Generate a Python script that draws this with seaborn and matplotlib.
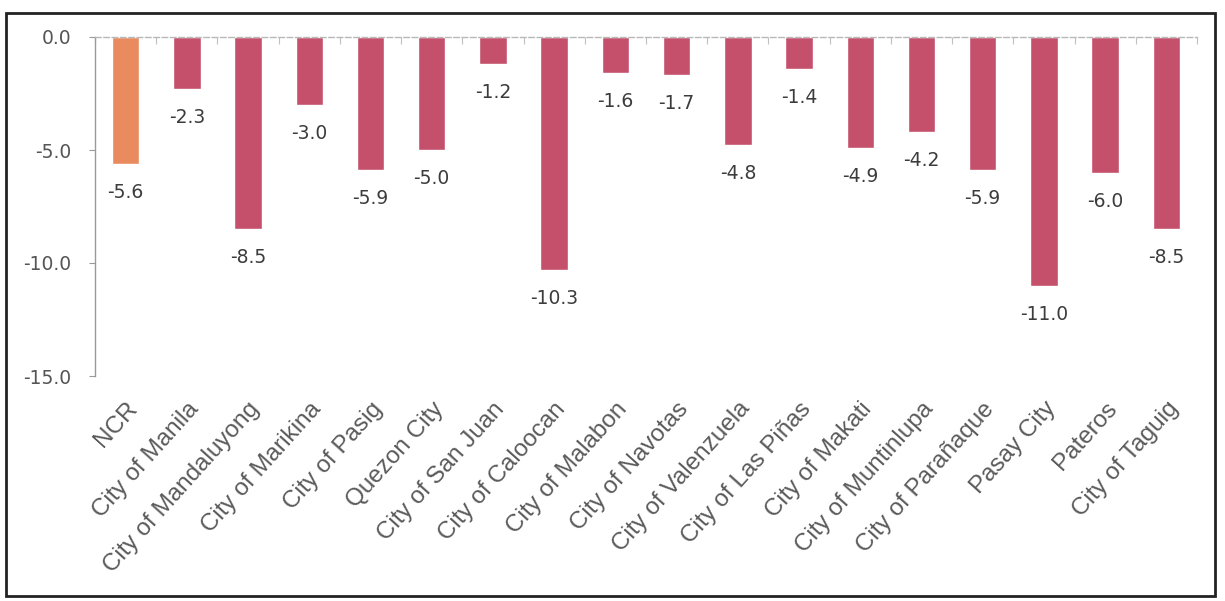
import matplotlib
matplotlib.use("Agg")
import matplotlib.pyplot as plt
from matplotlib.patches import Rectangle
from matplotlib.transforms import ScaledTranslation
import seaborn as sns
import pandas as pd
import numpy as np

# Change in values by area (NCR total and its cities / municipality)
areas = [
    "NCR", "City of Manila", "City of Mandaluyong", "City of Marikina",
    "City of Pasig", "Quezon City", "City of San Juan", "City of Caloocan",
    "City of Malabon", "City of Navotas", "City of Valenzuela",
    "City of Las Piñas", "City of Makati", "City of Muntinlupa",
    "City of Parañaque", "Pasay City", "Pateros", "City of Taguig",
]
values = [-5.6, -2.3, -8.5, -3.0, -5.9, -5.0, -1.2, -10.3, -1.6, -1.7,
          -4.8, -1.4, -4.9, -4.2, -5.9, -11.0, -6.0, -8.5]
groups = ["Region"] + ["City"] * (len(areas) - 1)

y_ticks = [0.0, -5.0, -10.0, -15.0]

df = pd.DataFrame({"area": areas, "value": values, "group": groups})

sns.set_theme(style="white")
plt.rcParams["font.family"] = ["DejaVu Sans"]

fig = plt.figure(figsize=(12.25, 6.01), dpi=100)
ax = fig.add_axes([95 / 1225, 1 - 376 / 601, (1197 - 95) / 1225, (376 - 37) / 601])

palette = {"Region": "#E98A5F", "City": "#C4506B"}
sns.barplot(data=df, x="area", y="value", hue="group", palette=palette,
            dodge=False, width=0.45, legend=False, ax=ax, saturation=1)

ax.set_ylim(-15, 0)
ax.set_xlim(-0.5, len(areas) - 0.5)
ax.set_yticks(y_ticks)
ax.set_yticklabels([f"{v:.1f}" for v in y_ticks], color="#555555", fontsize=13.5)
ax.set_xlabel("")
ax.set_ylabel("")

# value labels under each bar end
for i, v in enumerate(values):
    ax.annotate(f"{v:.1f}", (i, v), xytext=(0, -20.5), textcoords="offset points",
                ha="center", va="center", fontsize=13.5, color="#3c3c3c")

# category labels, slanted
ax.set_xticks(range(len(areas)))
ax.set_xticklabels(areas, rotation=48, ha="right", va="center",
                   rotation_mode="anchor", fontsize=17.5, color="#5a5a5a",
                   family="Liberation Sans")
ax.tick_params(axis="x", length=0, pad=21)
shift = ScaledTranslation(8 / 100, 0, fig.dpi_scale_trans)
for lbl in ax.get_xticklabels():
    lbl.set_transform(lbl.get_transform() + shift)

ax.tick_params(axis="y", length=4, width=0.8, color="#999999", left=True,
               direction="out", pad=13)

# axis at zero: dashed light line with small marks at category boundaries
for s in ["right", "bottom"]:
    ax.spines[s].set_visible(False)
ax.spines["left"].set_color("#9a9a9a")
ax.spines["left"].set_linewidth(1.0)
ax.spines["top"].set_color("#b8b8b8")
ax.spines["top"].set_linestyle((0, (4, 2)))
ax.spines["top"].set_linewidth(1.0)
ax.set_xticks(np.arange(-0.5, len(areas) + 0.5, 1), minor=True)
ax.tick_params(axis="x", which="minor", top=True, bottom=False, direction="in",
               length=5, width=0.8, color="#c0c0c0")

# figure frame
fig.patches.append(Rectangle((6 / 1225, 1 - 596 / 601), (1215 - 6) / 1225,
                             (596 - 13) / 601, transform=fig.transFigure,
                             fill=False, edgecolor="#222222", linewidth=2))

fig.savefig("out.png", dpi=100)
